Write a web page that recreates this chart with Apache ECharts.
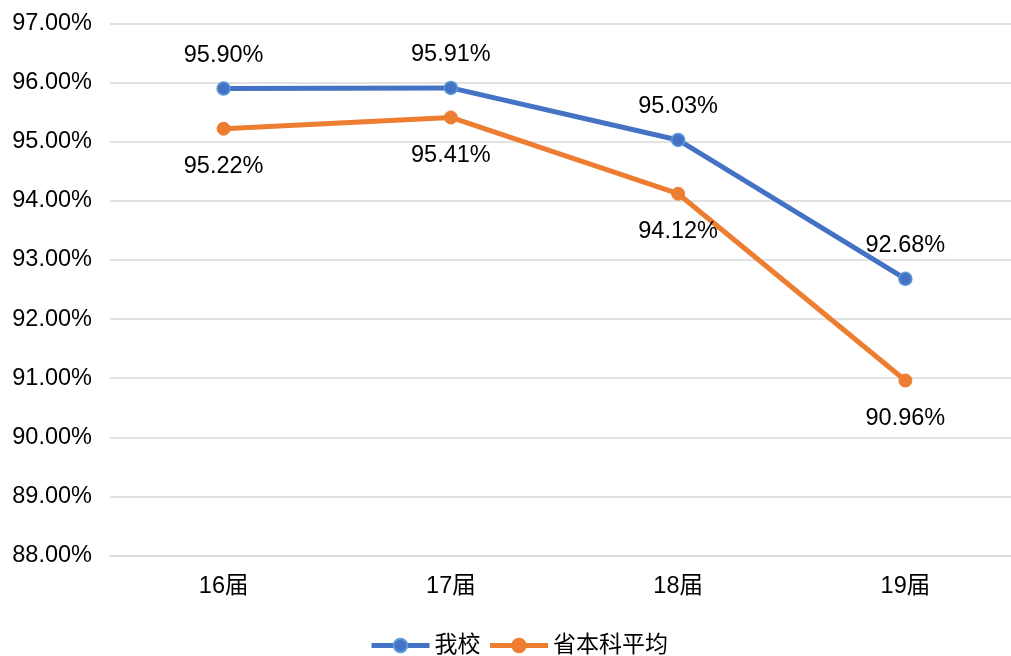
<!DOCTYPE html>
<html>
<head>
<meta charset="utf-8">
<script src="https://cdn.jsdelivr.net/npm/echarts@6/dist/echarts.min.js"></script>
<style>
  html, body { margin: 0; padding: 0; background: #fff; }
  #main { width: 1011px; height: 656px; }
</style>
</head>
<body>
<div id="main"></div>
<script>
var categories = ['16届', '17届', '18届', '19届'];
var ourSchool = [95.90, 95.91, 95.03, 92.68];
var provinceAvg = [95.22, 95.41, 94.12, 90.96];
var seriesNames = ['我校', '省本科平均'];

var fontFamily = '"Liberation Sans", Arial, "Noto Sans CJK SC", sans-serif';

function pct(v) { return v.toFixed(2) + '%'; }

var option = {
    animation: false,
    backgroundColor: '#ffffff',
    textStyle: { fontFamily: fontFamily },
    grid: {
        left: 110,
        top: 23.5,
        width: 909,
        height: 532,
        containLabel: false,
        outerBoundsMode: 'none'
    },
    legend: {
        data: seriesNames,
        left: 369,
        top: 634,
        padding: 0,
        itemWidth: 58,
        itemHeight: 17,
        itemGap: 7,
        lineStyle: { width: 5 },
        textStyle: { fontSize: 23, color: '#000', fontFamily: fontFamily }
    },
    xAxis: {
        type: 'category',
        data: categories,
        boundaryGap: true,
        axisLine: { lineStyle: { color: '#d9d9d9', width: 1.5 } },
        axisTick: { show: false },
        axisLabel: { fontSize: 23.5, color: '#000', margin: 19, fontFamily: fontFamily }
    },
    yAxis: {
        type: 'value',
        min: 88,
        max: 97,
        interval: 1,
        axisLine: { show: false },
        axisTick: { show: false },
        splitLine: { lineStyle: { color: '#d9d9d9', width: 1.5 } },
        axisLabel: {
            fontSize: 23.5,
            color: '#000',
            margin: 18,
            fontFamily: fontFamily,
            formatter: function (v) { return pct(v); }
        }
    },
    series: [
        {
            name: seriesNames[0],
            type: 'line',
            data: ourSchool,
            symbol: 'circle',
            symbolSize: 13,
            lineStyle: { color: '#4472C4', width: 5 },
            itemStyle: { color: '#4472C4', borderColor: '#5B9BD5', borderWidth: 1.5 },
            label: {
                show: true,
                position: 'top',
                distance: 14,
                fontSize: 23.5,
                color: '#000',
                fontFamily: fontFamily,
                formatter: function (p) { return pct(p.value); }
            },
            z: 3
        },
        {
            name: seriesNames[1],
            type: 'line',
            data: provinceAvg,
            symbol: 'circle',
            symbolSize: 13,
            lineStyle: { color: '#ED7D31', width: 5 },
            itemStyle: { color: '#ED7D31', borderColor: '#ED7D31', borderWidth: 1 },
            label: {
                show: true,
                position: 'bottom',
                distance: 19,
                fontSize: 23.5,
                color: '#000',
                fontFamily: fontFamily,
                formatter: function (p) { return pct(p.value); }
            },
            z: 2
        }
    ]
};

var myChart = echarts.init(document.getElementById('main'));
myChart.setOption(option);
</script>
</body>
</html>
